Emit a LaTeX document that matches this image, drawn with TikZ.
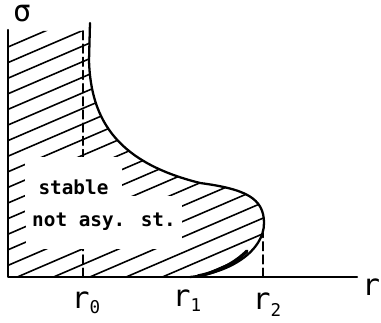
\documentclass[tikz,border=0pt]{standalone}
\usepackage{fontspec}
\usepackage{tikz}
\newfontfamily\handfont{DejaVu Sans Mono}

\begin{document}
\begin{tikzpicture}[x=0.02cm, y=0.02cm, line cap=round, line join=round,
    axis/.style={line width=1.3pt},
    hatch/.style={line width=0.9pt},
    guide/.style={line width=0.9pt, dash pattern=on 5pt off 2.5pt},
    lbl/.style={inner sep=0pt, font=\handfont\fontsize{17}{17}\selectfont},
    txt/.style={fill=white, font=\handfont\bfseries\fontsize{11}{12}\selectfont}]
  \useasboundingbox (0,0) rectangle (381,323);
  \coordinate (O) at (8,46);
  \coordinate (ytop) at (8,293);
  \coordinate (xend) at (357,46);
  % hatching inside the stable region
  \begin{scope}
    \clip (O) -- (8,292) -- (89,292) -- (89,262) .. controls (91,200) and (120,160) .. (200,140)
      .. controls (245,134) and (264,125) .. (264,100) .. controls (264,72) and (230,50) .. (190,46) -- cycle;
    \foreach \k in {0,...,21}
      \draw[hatch] (8,{276-15.6*\k}) -- ++(300,129);
  \end{scope}
  % dashed guides at r0 and r2
  \draw[guide] (83,46) -- (83,294);
  \draw[guide] (263,46) -- (263,90);
  \node[txt, inner xsep=7.7pt, inner ysep=13.5pt, anchor=base] (stab) at (73.5,128) {stable};
  \node[txt, inner xsep=3.6pt, inner ysep=10pt, anchor=base] (notasy) at (104,96) {not asy. st.};
  % boundary curve
  \draw[axis] (90,300) -- (89,262) .. controls (91,200) and (120,160) .. (200,140)
    .. controls (245,134) and (264,125) .. (264,100) .. controls (264,72) and (230,50) .. (190,46);
  \draw[line width=1.9pt] (247,72) .. controls (235,60) and (218,51) .. (198,47);
  % axes
  \draw[axis] (ytop) -- (O) -- (xend);
  \node[lbl] (lsig) at (22,309) {σ};
  \node[lbl] (lr) at (371,36) {r};
  \node[lbl] (lr0) at (86,20) {r\raisebox{-3pt}{\fontsize{10}{10}\selectfont 0}};
  \node[lbl] (lr1) at (187,22) {r\raisebox{-3pt}{\fontsize{10}{10}\selectfont 1}};
  \node[lbl] (lr2) at (267,18) {r\raisebox{-4pt}{\fontsize{10}{10}\selectfont 2}};
\end{tikzpicture}
\end{document}
